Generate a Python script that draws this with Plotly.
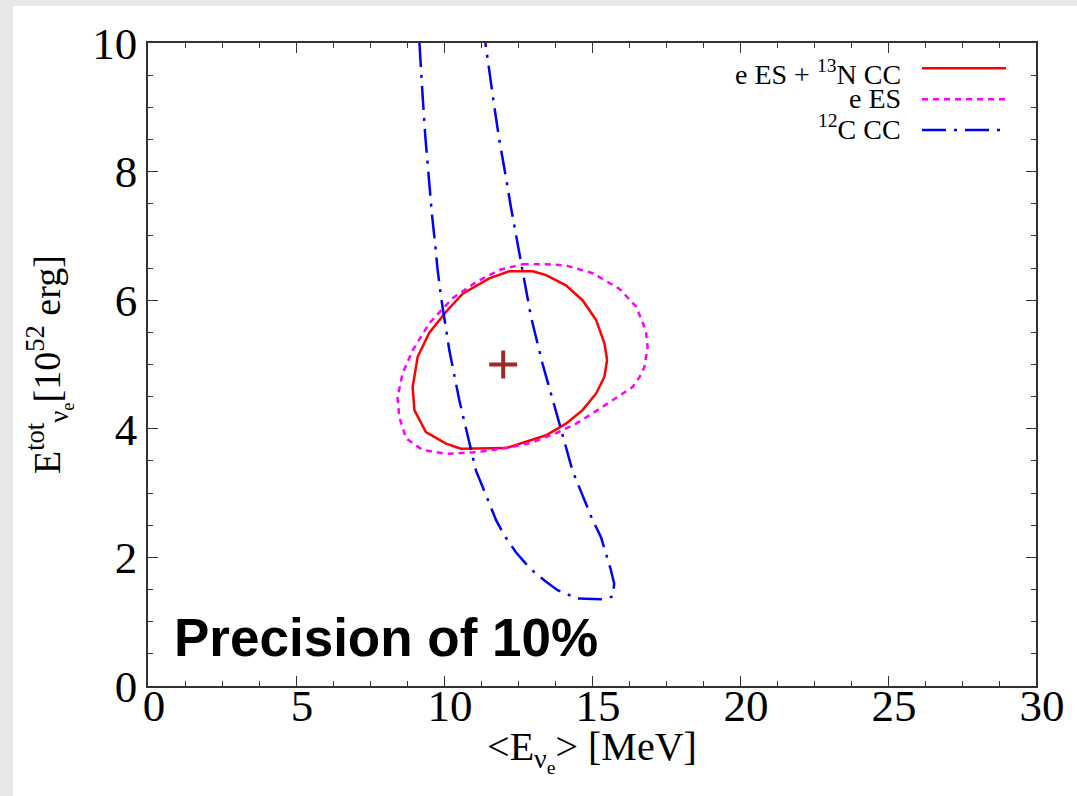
import plotly.graph_objects as go

# ---- data ----
red_x = [13.0, 12.2, 11.53, 10.63, 10.07, 9.50, 9.11, 8.94, 9.0, 9.39, 10.07, 10.57, 12.1, 12.66,
         13.45, 14.12, 14.68, 15.14, 15.42, 15.51, 15.42, 15.14, 14.68, 14.12, 13.45, 13.0]
red_y = [6.45, 6.45, 6.34, 6.10, 5.82, 5.49, 5.12, 4.65, 4.29, 3.95, 3.77, 3.69, 3.70, 3.78,
         3.90, 4.08, 4.29, 4.55, 4.81, 5.07, 5.33, 5.69, 6.00, 6.23, 6.39, 6.45]

mag_x = [12.66, 13.45, 14.12, 15.02, 15.92, 16.49, 16.82, 16.88, 16.77, 16.60, 16.37, 15.70, 15.02,
         14.46, 13.78, 13.0, 12.32, 11.19, 10.07, 9.28, 8.72, 8.49, 8.43, 8.60, 8.94, 9.50, 10.29,
         11.08, 11.87, 12.66]
mag_y = [6.56, 6.56, 6.54, 6.42, 6.18, 5.90, 5.53, 5.27, 4.96, 4.80, 4.65, 4.44, 4.24,
         4.08, 3.93, 3.79, 3.72, 3.64, 3.61, 3.67, 3.85, 4.18, 4.49, 4.86, 5.22, 5.64, 6.03,
         6.28, 6.47, 6.56]

blue_x = [9.17, 9.22, 9.28, 9.37, 9.48, 9.59, 9.71, 9.78, 9.90, 10.18, 10.52, 10.85, 11.08, 11.76,
          12.04, 12.43, 12.77, 13.05, 13.45, 13.84, 14.23, 14.51, 15.30, 15.70, 15.75, 15.64,
          15.47, 15.30, 15.02, 14.34, 13.90, 13.33, 12.94, 12.60, 12.43, 12.26, 12.07, 11.87,
          11.70, 11.51, 11.40]
blue_y = [10.0, 9.68, 9.16, 8.54, 7.92, 7.35, 6.83, 6.49, 6.05, 5.22, 4.44, 3.77, 3.35, 2.58,
          2.34, 2.08, 1.90, 1.77, 1.62, 1.49, 1.41, 1.36, 1.35, 1.39, 1.59, 1.80,
          2.06, 2.32, 2.58, 3.35, 4.08, 5.01, 5.74, 6.57, 6.99, 7.45, 7.97, 8.49,
          9.01, 9.63, 10.0]

best_x = [12.0]
best_y = [5.0]

legend_labels = ["e ES + <sup>13</sup>N CC", "e ES", "<sup>12</sup>C CC"]
annotation_text = "<b>Precision of 10%</b>"

RED, MAG, BLUE = "#ff0000", "#ff00ff", "#0000ff"
SERIF = "Liberation Serif"
TICKFONT = dict(family=SERIF, size=45, color="black")

fig = go.Figure()
fig.add_trace(go.Scatter(x=red_x, y=red_y, mode="lines", line=dict(color=RED, width=2.5),
                         showlegend=False))
fig.add_trace(go.Scatter(x=mag_x, y=mag_y, mode="lines",
                         line=dict(color=MAG, width=2.5, dash="6px,5px"), showlegend=False))
fig.add_trace(go.Scatter(x=blue_x, y=blue_y, mode="lines",
                         line=dict(color=BLUE, width=2.5, dash="24px,8px,3px,8px"),
                         showlegend=False))
fig.add_trace(go.Scatter(x=best_x, y=best_y, mode="markers",
                         marker=dict(symbol="cross-thin", size=20,
                                     line=dict(color="#a0282a", width=4)),
                         showlegend=False))
# invisible helper trace so the tick-label axis (x2) is drawn
fig.add_trace(go.Scatter(x=best_x, y=best_y, mode="markers", xaxis="x2",
                         marker=dict(opacity=0), showlegend=False, hoverinfo="skip"))

axis_common = dict(showgrid=False, zeroline=False, showline=True, linecolor="#333333",
                   linewidth=1.5, ticks="inside", ticklen=10, tickwidth=1.3, tickcolor="#333333",
                   mirror="ticks", tickfont=TICKFONT)

fig.update_layout(
    xaxis=dict(range=[0, 30], tick0=0, dtick=5, showticklabels=False,
               minor=dict(dtick=1.25, ticks="inside", ticklen=5, tickcolor="#333333"),
               title=dict(text="&lt;E<sub>ν<sub>e</sub></sub>&gt; [MeV]",
                          font=dict(family=SERIF, size=40, color="black"), standoff=45),
               **axis_common),
    xaxis2=dict(range=[0, 30], tick0=0, dtick=5, overlaying="x", anchor="free", position=0.017,
                side="bottom", showline=False, ticks="", showgrid=False, zeroline=False,
                ticklabelshift=6, tickfont=TICKFONT),
    yaxis=dict(range=[0, 10], tick0=0, dtick=2,
               minor=dict(dtick=0.5, ticks="inside", ticklen=5, tickcolor="#333333"),
               **axis_common),
)

# y axis title as rotated annotation
fig.add_annotation(xref="paper", yref="paper", x=-0.112, y=0.5, xanchor="center", yanchor="middle",
                   textangle=-90, showarrow=False,
                   text="E<sup>tot</sup><sub>ν<sub>e</sub></sub>[10<sup>52</sup> erg]",
                   font=dict(family=SERIF, size=38, color="black"))

# manual legend (labels left, samples right)
leg_y = [0.9606, 0.9124, 0.8647]
leg_text_y = [0.9546, 0.9144, 0.8687]
leg_colors = [RED, MAG, BLUE]
leg_dash = ["solid", "6px,5px", "24px,8px,3px,8px"]
leg_x1 = [0.9662, 0.9662, 0.9617]
for lab, yy, ty, col, dsh, x1 in zip(legend_labels, leg_y, leg_text_y, leg_colors, leg_dash, leg_x1):
    fig.add_annotation(xref="paper", yref="paper", x=0.8502, y=ty, xanchor="right",
                       yanchor="middle", showarrow=False, text=lab,
                       font=dict(family=SERIF, size=28, color="black"))
    fig.add_shape(type="line", xref="paper", yref="paper", x0=0.8716, x1=x1, y0=yy, y1=yy,
                  line=dict(color=col, width=2.5, dash=dsh))

fig.add_annotation(xref="paper", yref="paper", x=0.027, y=0.0747, xanchor="left",
                   yanchor="middle", showarrow=False, text=annotation_text,
                   font=dict(family="Liberation Sans", size=53, color="black"))

# grey page border strips (top and left)
fig.add_shape(type="rect", xref="paper", yref="paper", x0=-0.1667, x1=-0.1520, y0=-0.2, y1=1.1,
              fillcolor="#e8e8e8", line=dict(width=0), layer="below")
fig.add_shape(type="rect", xref="paper", yref="paper", x0=-0.17, x1=1.05, y0=1.0575, y1=1.07,
              fillcolor="#e8e8e8", line=dict(width=0), layer="below")

fig.update_layout(width=1077, height=796, autosize=False,
                  margin=dict(l=148, r=41, t=43, b=110, pad=0),
                  paper_bgcolor="white", plot_bgcolor="white")

fig.write_html("out.html", config={"displayModeBar": False},
               post_script="document.body.style.margin='0';")
